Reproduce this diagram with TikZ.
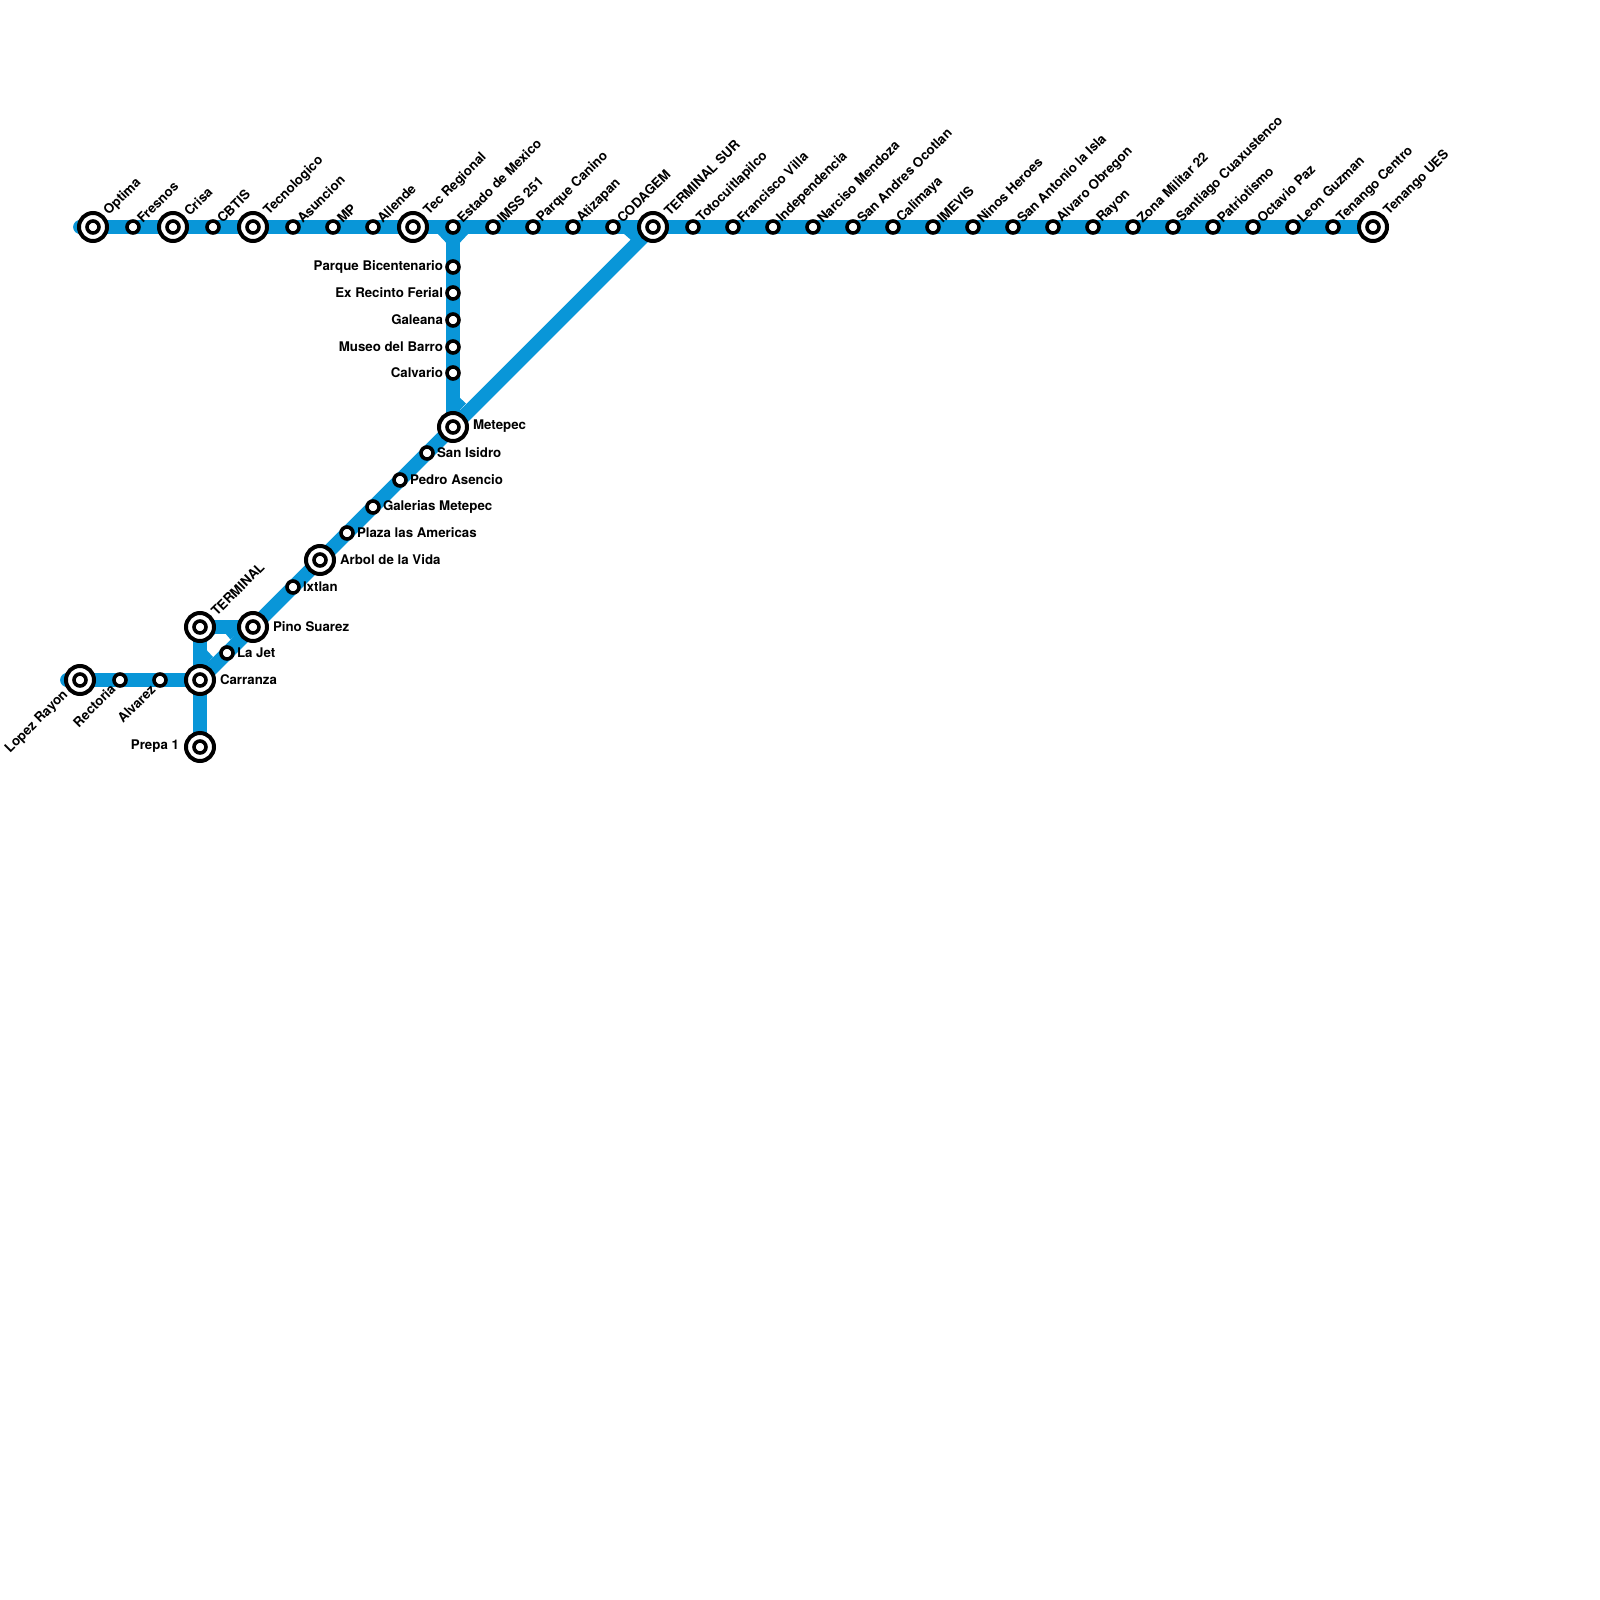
\documentclass[tikz,border=0pt]{standalone}
\usepackage{fontspec}
\setmainfont{TeX Gyre Heros}
\definecolor{metro}{HTML}{0996D8}
\tikzset{
  rail/.style={draw=metro,line width=6.9pt,line cap=round},
  fillet/.style={fill=metro,draw=none},
  stopdot/.style={circle,draw=black,fill=white,line width=1.8pt,minimum size=6pt,inner sep=0pt,outer sep=0pt},
  hubdot/.style={circle,draw=black,fill=white,line width=2pt,minimum size=14pt,inner sep=0pt,outer sep=0pt},
  lbl/.style={inner sep=0pt,outer sep=0pt,font=\bfseries\fontsize{6.65pt}{7pt}\selectfont,text=black},
  up/.style={lbl,anchor=west,rotate=45},
  dn/.style={lbl,anchor=east,rotate=45},
  rt/.style={lbl,anchor=west},
  lf/.style={lbl,anchor=east}
}
% name, x, y
\newcommand{\stp}[3]{\node[stopdot] (#1) at (#2,#3) {};}
\newcommand{\hub}[3]{\node[hubdot] (#1) at (#2,#3) {};\node[stopdot] (#1-core) at (#1) {};}
% name, dx, dy, style, text
\newcommand{\lab}[5]{\node[#4] (#1-label) at ([shift={(#2,#3)}]#1.center) {#5};}
\begin{document}
\begin{tikzpicture}[x=0.5pt,y=-0.5pt]
\useasboundingbox[fill=white] (0,0) rectangle (1600,1600);
% end points
\coordinate (endA) at (80,227);
\coordinate (endB) at (67,680);
\coordinate (pTenango) at (1373,227);
\coordinate (pEstado) at (453,227);
\coordinate (pSur) at (653,227);
\coordinate (pMetepec) at (453,427);
\coordinate (pTerminal) at (200,627);
\coordinate (pPino) at (253,627);
\coordinate (pCarranza) at (200,680);
\coordinate (pPrepa) at (200,747);
\draw[rail] (endA) -- (pTenango);
\draw[rail] (pEstado) -- (pMetepec);
\draw[rail] (pSur) -- (pCarranza);
\draw[rail] (endB) -- (pCarranza);
\draw[rail,line cap=butt] (pTerminal) -- (pPrepa);
\draw[rail,line cap=butt] (pTerminal) -- (pPino);
% fillets at the junctions
\fill[fillet] (437,233) -- (446.4,243) -- (459.6,243) -- (469,233) -- cycle;
\fill[fillet] (623,233) -- (631,240) -- (640,233) -- cycle;
\fill[fillet] (459,397) -- (466,403.5) -- (459,411) -- cycle;
\fill[fillet] (225,633) -- (230.5,639.5) -- (238,633) -- cycle;
\fill[fillet] (206.6,650) -- (213,657) -- (206.6,664) -- cycle;
\fill[fillet] (206.6,633) -- (216,633) -- (206.6,642) -- cycle;
% stations
\hub{optima}{93}{227}
\stp{fresnos}{133}{227}
\hub{crisa}{173}{227}
\stp{cbtis}{213}{227}
\hub{tecnologico}{253}{227}
\stp{asuncion}{293}{227}
\stp{mp}{333}{227}
\stp{allende}{373}{227}
\hub{tecregional}{413}{227}
\stp{estado}{453}{227}
\stp{imss}{493}{227}
\stp{parquecanino}{533}{227}
\stp{atizapan}{573}{227}
\stp{codagem}{613}{227}
\hub{terminalsur}{653}{227}
\stp{totocuitlapilco}{693}{227}
\stp{villa}{733}{227}
\stp{independencia}{773}{227}
\stp{narciso}{813}{227}
\stp{sanandres}{853}{227}
\stp{calimaya}{893}{227}
\stp{imevis}{933}{227}
\stp{ninos}{973}{227}
\stp{sanantonio}{1013}{227}
\stp{alvaro}{1053}{227}
\stp{rayon}{1093}{227}
\stp{zona}{1133}{227}
\stp{santiago}{1173}{227}
\stp{patriotismo}{1213}{227}
\stp{octavio}{1253}{227}
\stp{leon}{1293}{227}
\stp{tcentro}{1333}{227}
\hub{tues}{1373}{227}
\stp{bicentenario}{453}{267}
\stp{recinto}{453}{293}
\stp{galeana}{453}{320}
\stp{museo}{453}{347}
\stp{calvario}{453}{373}
\hub{metepec}{453}{427}
\stp{isidro}{427}{453}
\stp{pedro}{400}{480}
\stp{galerias}{373}{507}
\stp{plaza}{347}{533}
\hub{arbol}{320}{560}
\stp{ixtlan}{293}{587}
\hub{pino}{253}{627}
\stp{lajet}{227}{653}
\hub{terminal}{200}{627}
\hub{carranza}{200}{680}
\hub{prepa}{200}{747}
\stp{alvarez}{160}{680}
\stp{rectoria}{120}{680}
\hub{lopez}{80}{680}
% labels
\foreach \n/\t in {fresnos/Fresnos,cbtis/CBTIS,asuncion/Asuncion,mp/MP,allende/Allende,estado/Estado de Mexico,imss/IMSS 251,parquecanino/Parque Canino,atizapan/Atizapan,codagem/CODAGEM,totocuitlapilco/Totocuitlapilco,villa/Francisco Villa,independencia/Independencia,narciso/Narciso Mendoza,sanandres/San Andres Ocotlan,calimaya/Calimaya,imevis/IMEVIS,ninos/Ninos Heroes,sanantonio/San Antonio la Isla,alvaro/Alvaro Obregon,rayon/Rayon,zona/Zona Militar 22,santiago/Santiago Cuaxustenco,patriotismo/Patriotismo,octavio/Octavio Paz,leon/Leon Guzman,tcentro/Tenango Centro}
  {\lab{\n}{6.5}{-6.5}{up}{\t}}
\foreach \n/\t in {optima/Optima,crisa/Crisa,tecnologico/Tecnologico,tecregional/Tec Regional,terminalsur/TERMINAL SUR,tues/Tenango UES,terminal/TERMINAL}
  {\lab{\n}{13.5}{-13.5}{up}{\t}}
\foreach \n/\t in {bicentenario/Parque Bicentenario,recinto/Ex Recinto Ferial,galeana/Galeana,museo/Museo del Barro,calvario/Calvario}
  {\lab{\n}{-10}{-0.5}{lf}{\t}}
\foreach \n/\t in {isidro/San Isidro,pedro/Pedro Asencio,galerias/Galerias Metepec,plaza/Plaza las Americas,ixtlan/Ixtlan,lajet/La Jet}
  {\lab{\n}{10}{-0.5}{rt}{\t}}
\foreach \n/\t in {metepec/Metepec,arbol/Arbol de la Vida,pino/Pino Suarez,carranza/Carranza}
  {\lab{\n}{20}{-0.5}{rt}{\t}}
\lab{prepa}{-21}{-0.5}{lf}{Prepa 1}
\lab{lopez}{-14}{13}{dn}{Lopez Rayon}
\lab{rectoria}{-7}{7}{dn}{Rectoria}
\lab{alvarez}{-7}{7}{dn}{Alvarez}
\end{tikzpicture}
\end{document}
